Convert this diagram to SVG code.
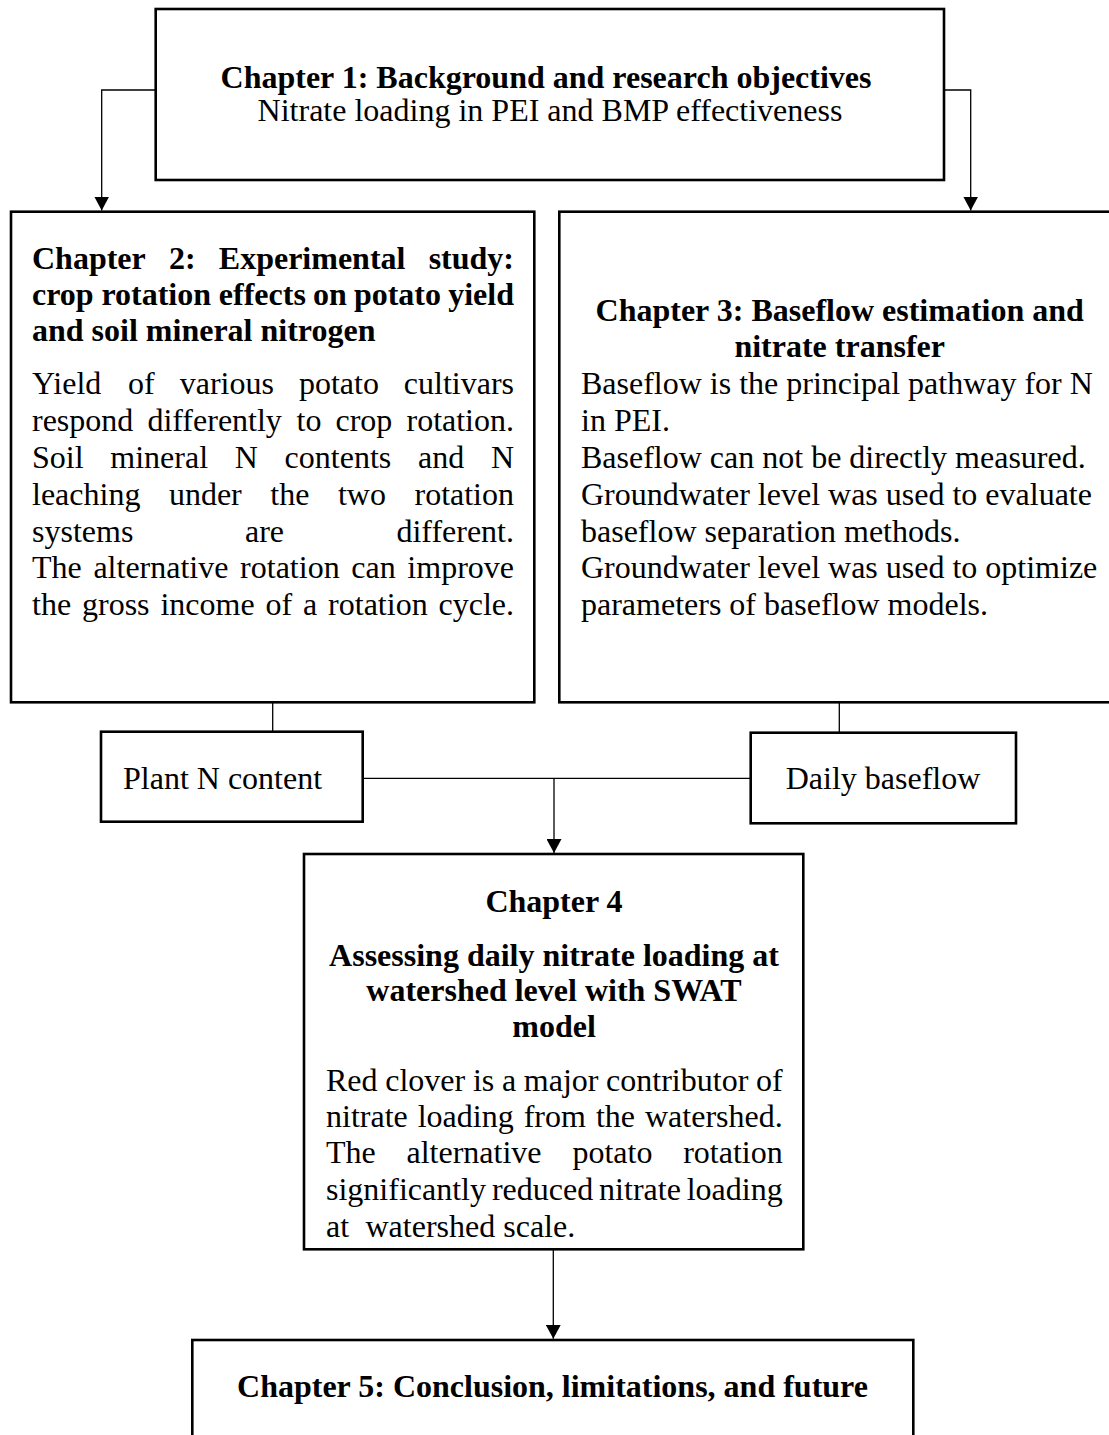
<svg xmlns="http://www.w3.org/2000/svg" width="1109" height="1435" viewBox="0 0 1109 1435">
<style>
.box{fill:#fff;stroke:#000;stroke-width:2.6}
.con{fill:none;stroke:#000;stroke-width:1.3}
text{font-family:"Liberation Serif","Times New Roman",serif;font-size:32px;fill:#000}
.b{font-weight:bold}
.m{text-anchor:middle}
</style>
<defs>
<marker id="arr" markerUnits="userSpaceOnUse" markerWidth="15" markerHeight="15" refX="14" refY="7.5" orient="auto">
<path d="M0,0 L14,7.5 L0,15 Z" fill="#000"/>
</marker>
</defs>
<rect width="1109" height="1435" fill="#fff"/>

<g id="connectors">
<polyline class="con" points="155.7,90 101.7,90 101.7,210.5" marker-end="url(#arr)"/>
<polyline class="con" points="944,90 970.7,90 970.7,210.5" marker-end="url(#arr)"/>
<line class="con" x1="272.7" y1="702.3" x2="272.7" y2="731.7"/>
<line class="con" x1="839.3" y1="702.3" x2="839.3" y2="732.7"/>
<line class="con" x1="362.7" y1="778.3" x2="750.7" y2="778.3"/>
<line class="con" x1="554" y1="778.3" x2="554" y2="853" marker-end="url(#arr)"/>
<line class="con" x1="553.3" y1="1249.3" x2="553.3" y2="1338.8" marker-end="url(#arr)"/>
</g>

<g id="ch1">
<rect class="box" x="155.7" y="9" width="788.3" height="171"/>
<text class="b m" x="546" y="87.5">Chapter 1: Background and research objectives</text>
<text class="m" x="550" y="121">Nitrate loading in PEI and BMP effectiveness</text>
</g>

<g id="ch2">
<rect class="box" x="11" y="211.7" width="523.3" height="490.6"/>
<text class="b" y="268.5"><tspan x="32">Chapter</tspan><tspan x="168.9">2:</tspan><tspan x="218.8">Experimental</tspan><tspan x="514" text-anchor="end">study:</tspan></text>
<text class="b" y="304.5"><tspan x="32">crop</tspan><tspan x="101.4">rotation</tspan><tspan x="218.8">effects</tspan><tspan x="313">on</tspan><tspan x="353.9">potato</tspan><tspan x="514" text-anchor="end">yield</tspan></text>
<text class="b" x="32" y="340.5">and soil mineral nitrogen</text>
<text y="394.3"><tspan x="32">Yield</tspan><tspan x="128.1">of</tspan><tspan x="179.7">various</tspan><tspan x="298.9">potato</tspan><tspan x="514" text-anchor="end">cultivars</tspan></text>
<text y="431.1"><tspan x="32">respond</tspan><tspan x="147.4">differently</tspan><tspan x="296.5">to</tspan><tspan x="335.5">crop</tspan><tspan x="514" text-anchor="end">rotation.</tspan></text>
<text y="467.9"><tspan x="32">Soil</tspan><tspan x="110.3">mineral</tspan><tspan x="234.8">N</tspan><tspan x="284.6">contents</tspan><tspan x="418">and</tspan><tspan x="514" text-anchor="end">N</tspan></text>
<text y="504.7"><tspan x="32">leaching</tspan><tspan x="168.9">under</tspan><tspan x="270.3">the</tspan><tspan x="337.9">two</tspan><tspan x="514" text-anchor="end">rotation</tspan></text>
<text y="541.5"><tspan x="32">systems</tspan><tspan x="245">are</tspan><tspan x="514" text-anchor="end">different.</tspan></text>
<text y="578.3"><tspan x="32">The</tspan><tspan x="93.4">alternative</tspan><tspan x="240.1">rotation</tspan><tspan x="351.3">can</tspan><tspan x="514" text-anchor="end">improve</tspan></text>
<text y="615.1"><tspan x="32">the</tspan><tspan x="82">gross</tspan><tspan x="160.4">income</tspan><tspan x="265.5">of</tspan><tspan x="303">a</tspan><tspan x="328.1">rotation</tspan><tspan x="514" text-anchor="end">cycle.</tspan></text>
</g>

<g id="ch3">
<rect class="box" x="559.3" y="211.7" width="560" height="490.6"/>
<text class="b m" x="839.7" y="321">Chapter 3: Baseflow estimation and</text>
<text class="b m" x="839.7" y="356.7">nitrate transfer</text>
<text x="581" y="394.3">Baseflow is the principal pathway for N</text>
<text x="581" y="431.1">in PEI.</text>
<text x="581" y="467.9">Baseflow can not be directly measured.</text>
<text x="581" y="504.7">Groundwater level was used to evaluate</text>
<text x="581" y="541.5">baseflow separation methods.</text>
<text x="581" y="578.3">Groundwater level was used to optimize</text>
<text x="581" y="615.1">parameters of baseflow models.</text>
</g>

<g id="plantN">
<rect class="box" x="101" y="731.7" width="261.7" height="90"/>
<text x="123" y="789">Plant N content</text>
</g>

<g id="daily">
<rect class="box" x="750.7" y="732.7" width="265.3" height="90.6"/>
<text class="m" x="883" y="789.3">Daily baseflow</text>
</g>

<g id="ch4">
<rect class="box" x="304" y="854" width="499.3" height="395.3"/>
<text class="b m" x="554" y="911.7">Chapter 4</text>
<text class="b m" x="554" y="965.7">Assessing daily nitrate loading at</text>
<text class="b m" x="554" y="1001">watershed level with SWAT</text>
<text class="b m" x="554" y="1037">model</text>
<text y="1090.7"><tspan x="326">Red</tspan><tspan x="385.2">clover</tspan><tspan x="472.9">is</tspan><tspan x="501.9">a</tspan><tspan x="523.8">major</tspan><tspan x="606.1">contributor</tspan><tspan x="782.7" text-anchor="end">of</tspan></text>
<text y="1126.9"><tspan x="326">nitrate</tspan><tspan x="417.7">loading</tspan><tspan x="523.7">from</tspan><tspan x="595.9">the</tspan><tspan x="782.7" text-anchor="end">watershed.</tspan></text>
<text y="1163.3"><tspan x="326">The</tspan><tspan x="406.5">alternative</tspan><tspan x="572.4">potato</tspan><tspan x="782.7" text-anchor="end">rotation</tspan></text>
<text y="1200"><tspan x="326">significantly</tspan><tspan x="491.9">reduced</tspan><tspan x="599.1">nitrate</tspan><tspan x="782.7" text-anchor="end">loading</tspan></text>
<text y="1236.7"><tspan x="326">at</tspan><tspan x="365.5">watershed scale.</tspan></text>
</g>

<g id="ch5">
<rect class="box" x="192.3" y="1340" width="721" height="130"/>
<text class="b m" x="552.5" y="1396.7">Chapter 5: Conclusion, limitations, and future</text>
</g>
</svg>
